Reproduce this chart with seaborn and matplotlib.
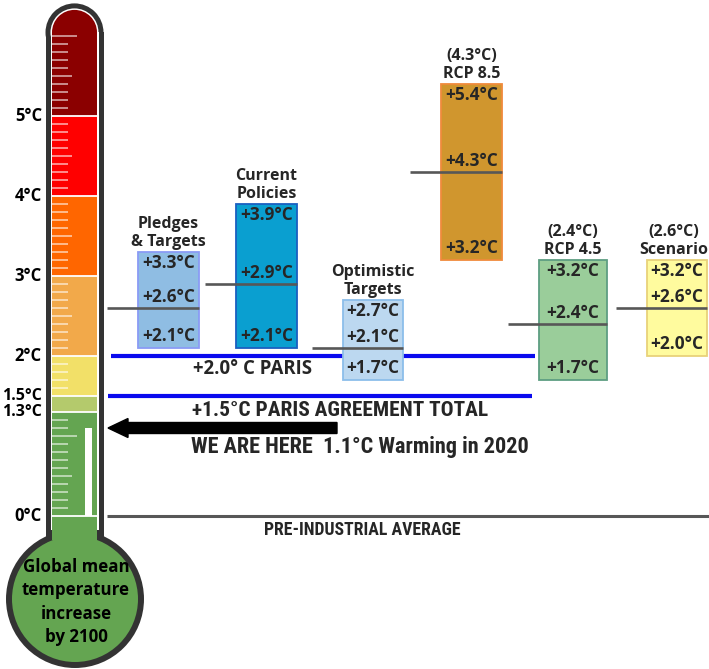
import matplotlib
matplotlib.use("Agg")
import numpy as np
import seaborn as sns
import matplotlib.pyplot as plt
from matplotlib import font_manager
from matplotlib.patches import Rectangle, Ellipse

# ---- data: projected warming by 2100 (deg C) ----
scenarios = ["Pledges\n& Targets", "Current\nPolicies", "Optimistic\nTargets",
             "(4.3°C)\nRCP 8.5", "(2.4°C)\nRCP 4.5", "(2.6°C)\nScenario"]
low = [2.1, 2.1, 1.7, 3.2, 1.7, 2.0]
mid = [2.6, 2.9, 2.1, 4.3, 2.4, 2.6]
high = [3.3, 3.9, 2.7, 5.4, 3.2, 3.2]

# thermometer scale
band_edges = [0, 1.3, 1.5, 2, 3, 4, 5]
band_labels = ["0°C", "1.3°C", "1.5°C", "2°C", "3°C", "4°C", "5°C"]
band_top = 6.05
paris_goal = 2.0
paris_total = 1.5
warming_2020 = 1.1

# ---- layout / styles ----
box_left = [138, 236, 343, 441, 539, 647]
box_width = [61, 61, 60, 61, 68, 60]
box_fill = ["#8fbde3", "#0a9fd0", "#bcd8f0", "#d0962e", "#9acd9a", "#fffb9e"]
box_edge = ["#8a9bf5", "#1a5fc0", "#8cbeea", "#f08a3c", "#5e9e82", "#e8d27a"]
band_colors = ["#64a551", "#b4ca6c", "#f2e068", "#f2a94a", "#ff6600", "#ff0000", "#8b0000"]
GREEN = "#64a551"
DARK = "#333333"
BLUE = "#0a0aee"
GREY = "#575757"

PX = 80.0          # pixels per degree
ZERO = 516         # pixel row of 0 degC


def py(px):
    return (ZERO - px) / PX


sns.set_theme(style="white")
plt.rcParams["font.family"] = ["Open Sans", "DejaVu Sans"]

names = {f.name for f in font_manager.fontManager.ttflist}
narrow, nscale = "Liberation Sans", 0.82
for cand in ["Liberation Sans Narrow", "Roboto Condensed", "Open Sans Condensed"]:
    if cand in names:
        narrow, nscale = cand, 1.0
        break

fig = plt.figure(figsize=(7.09, 6.69), dpi=100)
ax = fig.add_axes([0, 0, 1, 1])
ax.set_xlim(0, 709)
ax.set_ylim(py(669), py(0))
ax.set_axis_off()

# ---- thermometer ----
cx = 74.5
cap_c = band_top - 0.005
bulb_y = py(599)
# outer dark shell
ax.add_patch(Rectangle((45.5, bulb_y), 58, cap_c - bulb_y, fc=DARK, ec="none", zorder=1))
ax.add_patch(Ellipse((cx, cap_c), 58, 58 / PX, fc=DARK, ec="none", zorder=1))
ax.add_patch(Ellipse((75, bulb_y), 138, 138 / PX, fc=DARK, ec="none", zorder=1))
# thin white inner rim
ax.add_patch(Rectangle((50.5, py(530)), 48, cap_c - py(530), fc="white", ec="none", zorder=1.1))
ax.add_patch(Ellipse((cx, cap_c), 48, 48 / PX, fc="white", ec="none", zorder=1.1))
# bulb + neck
ax.add_patch(Ellipse((75, bulb_y), 126, 126 / PX, fc=GREEN, ec="none", zorder=1.2))
ax.add_patch(Rectangle((52, py(540)), 45, 0 - py(540), fc=GREEN, ec="none", zorder=1.2))
# colour bands
edges = band_edges + [cap_c]
for i, col in enumerate(band_colors):
    ax.add_patch(Rectangle((52, edges[i]), 45, edges[i + 1] - edges[i], fc=col, ec="none", zorder=1.3))
ax.add_patch(Ellipse((cx, cap_c), 45, 45 / PX, fc=band_colors[-1], ec="none", zorder=1.3))
# separators
ax.hlines(band_edges, 52, 97, color="white", lw=1.3, zorder=1.5)
# scale ticks
for t in np.round(np.arange(0.1, 6.05, 0.1), 1):
    if t in band_edges or abs(t - 1.4) < 1e-6:
        continue
    if abs(t - round(t)) < 1e-6:
        ln = 25
    elif abs(t % 1 - 0.5) < 1e-6:
        ln = 20
    else:
        ln = 16
    ax.hlines(t, 52, 52 + ln, color="white", alpha=0.7, lw=1.1, zorder=1.4)
# mercury
ax.add_patch(Rectangle((85, 0), 7, warming_2020, fc="white", ec="none", zorder=1.6))

# scale labels; 1.3 and 1.5 sit very close, so they share one text block
for e, lab in zip(band_edges, band_labels):
    if e in (1.3, 1.5):
        continue
    ax.text(42, e, lab, ha="right", va="center", fontsize=12, fontweight="bold", color="black")
ax.text(42, (band_edges[1] + band_edges[2]) / 2, band_labels[2] + "\n" + band_labels[1],
        ha="right", va="center", fontsize=11.5, fontweight="bold", color="black", linespacing=1.0)

ax.text(76, py(602), "Global mean\ntemperature\nincrease\nby 2100", ha="center", va="center",
        fontsize=12.2, fontweight="bold", color="black", linespacing=1.36, zorder=2)

# ---- reference lines ----
ax.hlines(paris_goal, 111, 535, color=BLUE, lw=3, zorder=2)
ax.hlines(paris_total, 108, 532, color=BLUE, lw=3, zorder=2)
ax.hlines(0, 107, 709, color=GREY, lw=2.2, zorder=2)

ax.text(253, py(369), "+2.0° C PARIS", ha="center", va="center", fontsize=13.4, fontweight="bold")
ax.text(192, py(410), "+1.5°C PARIS AGREEMENT TOTAL", ha="left", va="center",
        fontsize=15.4 * nscale, fontweight="bold", family=[narrow, "DejaVu Sans"])
ax.arrow(337, warming_2020, -229, 0, width=11 / PX, head_width=19 / PX, head_length=20,
         length_includes_head=True, fc="black", ec="black", zorder=3)
ax.text(191, py(447), "WE ARE HERE  1.1°C Warming in 2020", ha="left", va="center",
        fontsize=16 * nscale, fontweight="bold", family=[narrow, "DejaVu Sans"])
ax.text(362, py(530), "PRE-INDUSTRIAL AVERAGE", ha="center", va="center",
        fontsize=12.8 * nscale, fontweight="bold", family=[narrow, "DejaVu Sans"])

# ---- scenario boxes ----
heights = [h - l for h, l in zip(high, low)]
ax.bar(box_left, heights, bottom=low, width=box_width, align="edge",
       color=box_fill, edgecolor=box_edge, linewidth=1.3, zorder=3)
starts = [l - 31 for l in box_left]
ends = [l + w for l, w in zip(box_left, box_width)]
ax.hlines(mid, starts, ends, color=GREY, lw=1.9, zorder=4)

for i, name in enumerate(scenarios):
    xc = box_left[i] + box_width[i] / 2
    for val, dy in [(high[i], -0.14), (mid[i], 0.14), (low[i], 0.15)]:
        ax.text(xc, val + dy, f"+{val:.1f}°C", ha="center", va="center",
                fontsize=12.4, fontweight="bold", zorder=5)
    if xc + 36 > 709:
        ax.text(708, high[i] + 0.03, name, ha="right", va="bottom", multialignment="center",
                fontsize=11.5, fontweight="bold", linespacing=1.15, zorder=5)
    else:
        ax.text(xc, high[i] + 0.03, name, ha="center", va="bottom", fontsize=11.5,
                fontweight="bold", linespacing=1.15, zorder=5)

fig.savefig("out.png", dpi=100)
